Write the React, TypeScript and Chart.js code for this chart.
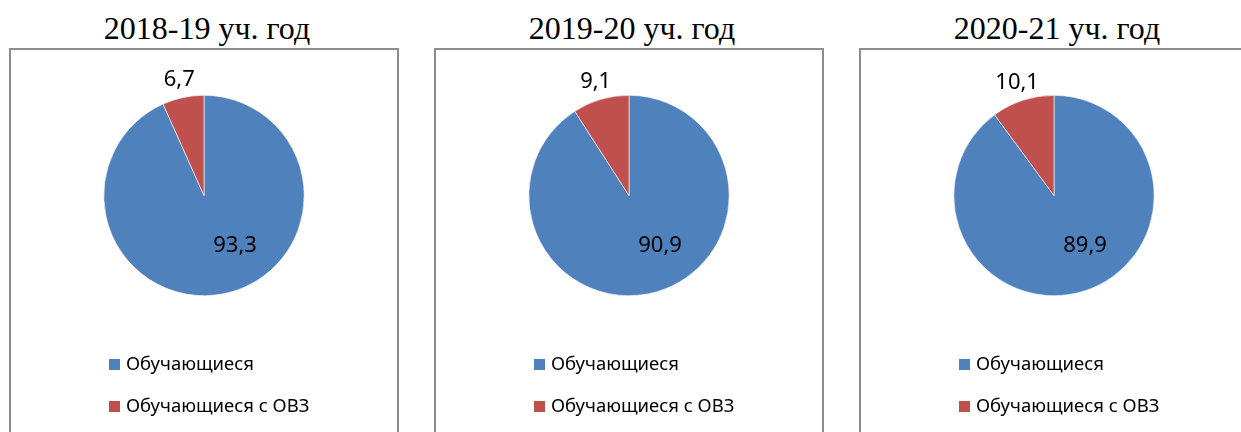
import React, { useEffect, useRef } from "react";
import { Chart, registerables } from "chart.js";

Chart.register(...registerables);

const titles = ["2018-19 уч. год", "2019-20 уч. год", "2020-21 уч. год"];
const categories = ["Обучающиеся", "Обучающиеся с ОВЗ"];
const mainValues = [93.3, 90.9, 89.9];
const ovzValues = [6.7, 9.1, 10.1];
const colors = ["#4F81BD", "#C0504D"];

const BOX_W = 390;
const BOX_GAP = 35;
const BOX_LEFT = 9;
const BOX_TOP = 48;
const CANVAS_W = 386;
const CANVAS_H = 382;

const fmt = (v: number) => v.toFixed(1).replace(".", ",");

const labelPlugin = {
  id: "pieLabelsLegend",
  afterDatasetsDraw(chart: any) {
    const ctx = chart.ctx;
    const meta = chart.getDatasetMeta(0);
    const ds = chart.data.datasets[0];
    ctx.save();
    ctx.font = "22px 'Noto Sans'";
    ctx.fillStyle = "#000";
    ctx.textAlign = "center";
    ctx.textBaseline = "middle";
    meta.data.forEach((arc: any, i: number) => {
      const { x, y, startAngle, endAngle, outerRadius } = arc.getProps(
        ["x", "y", "startAngle", "endAngle", "outerRadius"],
        true
      );
      const text = fmt(ds.data[i]);
      let lx: number, ly: number;
      if (i === 0) {
        lx = x + 0.31 * outerRadius;
        ly = y + 0.5 * outerRadius;
      } else {
        const mid = (startAngle + endAngle) / 2;
        const d = outerRadius + 18;
        lx = x + Math.cos(mid) * d;
        ly = y + Math.sin(mid) * d;
      }
      ctx.fillText(text, lx, ly);
    });

    // legend (vertical, below the pie)
    const labels = chart.data.labels as string[];
    ctx.font = "18.5px 'Noto Sans'";
    ctx.textAlign = "left";
    const legendX = 98;
    const legendY0 = 315;
    const legendStep = 42;
    labels.forEach((lab, i) => {
      const cy = legendY0 + i * legendStep;
      ctx.fillStyle = ds.backgroundColor[i];
      ctx.fillRect(legendX, cy - 6, 11, 11);
      ctx.fillStyle = "#000";
      ctx.fillText(lab, legendX + 17, cy);
    });
    ctx.restore();
  },
};

function PieBox({ index }: { index: number }) {
  const ref = useRef<HTMLCanvasElement>(null);
  useEffect(() => {
    if (!ref.current) return;
    const chart = new Chart(ref.current, {
      type: "pie",
      data: {
        labels: categories,
        datasets: [
          {
            data: [mainValues[index], ovzValues[index]],
            backgroundColor: colors,
            borderColor: "#ffffff",
            borderWidth: 0.6,
          },
        ],
      },
      options: {
        responsive: false,
        maintainAspectRatio: false,
        animation: false,
        layout: { padding: { top: 45, bottom: 136, left: 0, right: 0 } },
        plugins: {
          legend: { display: false },
          tooltip: { enabled: false },
          title: { display: false },
        },
      },
      plugins: [labelPlugin],
    });
    return () => chart.destroy();
  }, [index]);

  const left = BOX_LEFT + index * (BOX_W + BOX_GAP);
  return (
    <>
      <div
        style={{
          position: "absolute",
          left: left + 3,
          top: 10,
          width: BOX_W,
          textAlign: "center",
          fontFamily: "'Liberation Serif', serif",
          fontSize: 32,
          color: "#000",
          whiteSpace: "nowrap",
        }}
      >
        {titles[index]}
      </div>
      <div
        style={{
          position: "absolute",
          left,
          top: BOX_TOP,
          width: BOX_W,
          height: 420,
          boxSizing: "border-box",
          border: "2px solid #8c8c8c",
          background: "#fff",
        }}
      >
        <canvas
          ref={ref}
          width={CANVAS_W}
          height={CANVAS_H}
          style={{ display: "block", width: CANVAS_W, height: CANVAS_H }}
        />
      </div>
    </>
  );
}

export default function App() {
  return (
    <div
      style={{
        position: "absolute",
        left: 0,
        top: 0,
        width: 1241,
        height: 432,
        overflow: "hidden",
        background: "#fff",
      }}
    >
      {titles.map((_, i) => (
        <PieBox key={i} index={i} />
      ))}
    </div>
  );
}
